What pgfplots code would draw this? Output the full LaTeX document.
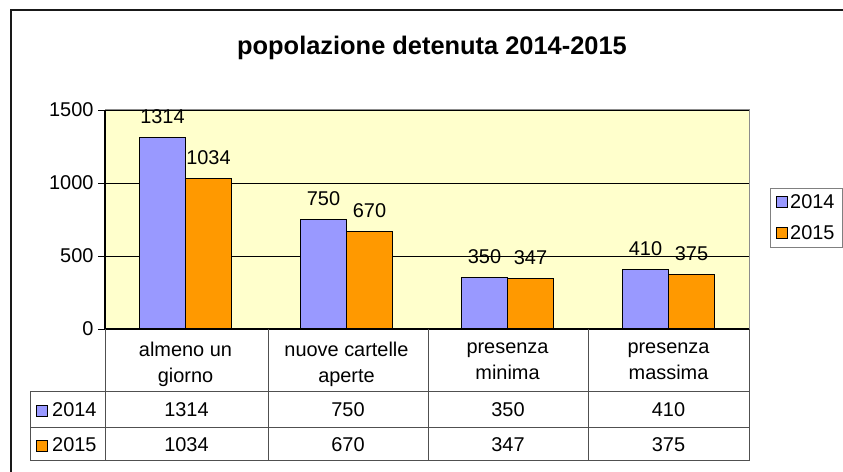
\documentclass[border=0pt]{standalone}
\usepackage{pgfplots}
\usepackage{pgfplotstable}
\pgfplotsset{compat=1.18}
\usepackage{fontspec}
\setmainfont{Liberation Sans}
\definecolor{cA}{RGB}{153,153,255}
\definecolor{cB}{RGB}{255,153,0}
\definecolor{bgY}{RGB}{255,255,204}
\definecolor{tabline}{RGB}{80,80,80}
\pgfplotstableread{
x y14 y15
0.5 1314 1034
1.5 750 670
2.5 350 347
3.5 410 375
}\datatable
\newcommand{\tf}{\fontsize{20}{26}\selectfont}
\begin{document}
\begin{tikzpicture}[x=1bp,y=1bp]
\useasboundingbox (0,0) rectangle (843,472);
\clip (0,0) rectangle (843,472);
\fill[white] (0,0) rectangle (843,472);
\draw[line width=2.2bp, black!90] (11,-10) -- (11,462) -- (870,462);
\node[font=\fontsize{25.5}{30}\selectfont\bfseries] at (432,424) {popolazione detenuta 2014-2015};
\begin{axis}[
  at={(105bp,143bp)}, anchor=south west,
  scale only axis, width=644bp, height=219bp,
  xmin=0, xmax=4, ymin=0, ymax=1500,
  ytick={0,500,1000,1500},
  xtick={0.5,1.5,2.5,3.5},
  xticklabels={{almeno un\\giorno},{nuove cartelle\\aperte},{presenza\\minima},{presenza\\massima}},
  xticklabel style={align=center, font=\tf, yshift=-3bp},
  xtick style={draw=none},
  ytick style={black, line width=0.8bp},
  tick align=outside, major tick length=7bp,
  ytick pos=left,
  /pgf/number format/assume math mode=true,
  /pgf/number format/1000 sep={},
  yticklabel style={font=\tf, xshift=-1bp},
  ymajorgrids, grid style={black, line width=0.8bp},
  axis background/.style={fill=bgY},
  axis line style={black!45, line width=1bp},
  ybar=0bp, bar width=46bp,
  nodes near coords,
  nodes near coords style={font=\tf, anchor=south, yshift=10bp},
  legend style={at={(1.0325,0.645)}, anchor=north west, draw=black!50, line width=1bp,
    font=\tf, inner xsep=6bp, inner ysep=4bp, row sep=12bp, legend cell align=left},
  clip=false,
]
\addplot[fill=cA, draw=black, line width=1bp,
  legend image code/.code={\draw[fill=cA, draw=black, line width=0.8bp] (0bp,-5.5bp) rectangle (11bp,5.5bp);}]
  table[x=x, y=y14] {\datatable};
\addlegendentry{2014}
\addplot[fill=cB, draw=black, line width=1bp,
  legend image code/.code={\draw[fill=cB, draw=black, line width=0.8bp] (0bp,-5.5bp) rectangle (11bp,5.5bp);}]
  table[x=x, y=y15] {\datatable};
\addlegendentry{2015}
\draw[black, line width=1.4bp] (rel axis cs:0,0) -- (rel axis cs:0,1);
\draw[black, line width=2bp] (rel axis cs:0,0) -- (rel axis cs:1,0);
\end{axis}
% data table grid
\begin{scope}[tabline, line width=1bp]
\draw (30,80) -- (749,80);
\draw (30,44) -- (749,44);
\draw (30,11) -- (749,11);
\draw (30,80) -- (30,11);
\foreach \xx in {105,268,428,588,749} {\draw (\xx,143) -- (\xx,11);}
\end{scope}
\foreach \i/\xc in {0/186.5,1/348,2/508,3/668.5} {
  \pgfplotstablegetelem{\i}{y14}\of\datatable
  \node[font=\tf] at (\xc,62) {\pgfplotsretval};
  \pgfplotstablegetelem{\i}{y15}\of\datatable
  \node[font=\tf] at (\xc,27) {\pgfplotsretval};
}
\draw[fill=cA, draw=black, line width=0.8bp] (36,56) rectangle (47,67);
\node[font=\tf, anchor=west, inner sep=0pt] at (52,62) {2014};
\draw[fill=cB, draw=black, line width=0.8bp] (36,21) rectangle (47,32);
\node[font=\tf, anchor=west, inner sep=0pt] at (52,27) {2015};
\end{tikzpicture}
\end{document}
